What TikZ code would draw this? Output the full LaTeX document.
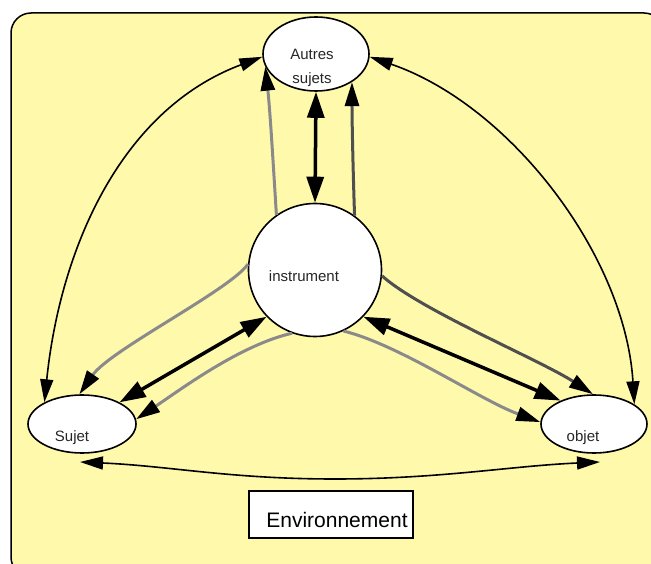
\documentclass[tikz,border=0pt]{standalone}
\usepackage{fontspec}
\setmainfont{Liberation Sans}
\usetikzlibrary{arrows.meta,shapes.geometric}
\definecolor{bgyellow}{HTML}{FFF9AC}
\definecolor{lgray}{HTML}{8A8A8A}
\definecolor{dgray}{HTML}{4F4F4F}
\begin{document}
\begin{tikzpicture}[x=1pt,y=-1pt,
  ell/.style={ellipse,draw,fill=white,line width=1.6pt,inner sep=0pt},
  lbl/.style={font=\fontsize{15}{18}\selectfont,text=black!85,anchor=base,inner sep=0pt},
  conn/.style={line width=1.6pt,arrows={Triangle[length=23pt 0 1,width=13pt 0 1]-Triangle[length=23pt 0 1,width=13pt 0 1]}},
  heavy/.style={line width=3.5pt,arrows={Triangle[length=26pt 0 1,width=17pt 0 1]-Triangle[length=26pt 0 1,width=17pt 0 1]}},
  lg/.style={draw=lgray,line width=3pt,arrows={-Triangle[length=24pt 0 1,width=14pt 0 1,black]}},
  dg/.style={draw=dgray,line width=3pt,arrows={-Triangle[length=24pt 0 1,width=14pt 0 1,black]}}
]
\useasboundingbox (0,0) rectangle (651,564);
\clip (0,0) rectangle (651,564);
\fill[white] (0,0) rectangle (651,564);
\draw[fill=bgyellow,line width=1.5pt,rounded corners=20pt] (11,13) rectangle (664,577);

\node[ell,minimum width=106pt,minimum height=74pt] (autres) at (316,54) {};
\node[circle,draw,fill=white,line width=1.6pt,minimum size=133pt,inner sep=0pt] (instr) at (315,270) {};
\node[ell,minimum width=108pt,minimum height=58pt] (sujet) at (82,424) {};
\node[ell,minimum width=106pt,minimum height=58pt] (objet) at (594,424) {};
\node[draw,fill=white,line width=1.2pt,minimum width=164pt,minimum height=47pt,inner sep=0pt] (env) at (331,514.5) {};

\node[lbl] (tA) at (312,60) {Autres};
\node[lbl] (tB) at (312,84) {sujets};
\node[lbl] (tI) at (304,282) {instrument};
\node[lbl] (tS) at (72,441) {Sujet};
\node[lbl] (tO) at (583,441) {objet};
\node[lbl,font=\fontsize{21}{24}\selectfont,text=black] (tE) at (337,527) {Environnement};

\draw[heavy] (autres.270) -- (instr.90);
\draw[heavy] (instr.224) -- (sujet.30);
\draw[heavy] (instr.316) -- (objet.145);

\draw[lg] (instr.125) .. controls (273,160) and (270,110) .. (autres.194);
\draw[dg] (instr.54) .. controls (353,170) and (352,120) .. (autres.322);
\draw[lg] (instr.175) .. controls (230,290) and (110,350) .. (sujet.95);
\draw[lg] (instr.250) .. controls (240,345) and (180,390) .. (sujet.5);
\draw[dg] (instr.355) .. controls (420,310) and (540,360) .. (objet.92);
\draw[lg] (instr.295) .. controls (400,345) and (480,400) .. (objet.178);

\draw[conn] (sujet.150) .. controls (60,250) and (120,110) .. (autres.183);
\draw[conn] (autres.357) .. controls (510,105) and (625,255) .. (objet.26);
\coordinate (sb) at (80,462);
\coordinate (ob) at (600,462);
\draw[conn] (sb) .. controls (170,466) and (230,479) .. (335,479) .. controls (440,479) and (510,466) .. (ob);
\end{tikzpicture}
\end{document}
